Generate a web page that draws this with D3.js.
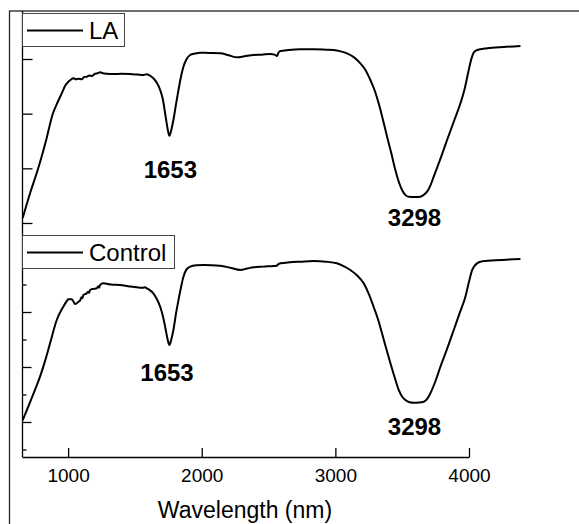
<!DOCTYPE html>
<html>
<head>
<meta charset="utf-8">
<script src="https://cdn.jsdelivr.net/npm/d3@7"></script>
<style>
  body { margin: 0; background: #fff; }
  svg { display: block; font-family: Arial, "Liberation Sans", sans-serif; }
</style>
</head>
<body>
<div id="chart"></div>
<script>
// LA spectrum (wavelength nm, arbitrary units)
var waveLA = [660, 720, 777, 835, 885, 920, 952, 980, 1002, 1020, 1039, 1060, 1080, 1102, 1120, 1140, 1160, 1180, 1200, 1220, 1239, 1260, 1290, 1339, 1400, 1464, 1520, 1564, 1589, 1610, 1638, 1665, 1689, 1710, 1726, 1745, 1758, 1772, 1788, 1808, 1826, 1845, 1863, 1885, 1913, 1950, 1988, 2050, 2138, 2200, 2263, 2320, 2388, 2450, 2513, 2545, 2563, 2575, 2588, 2650, 2737, 2837, 2930, 2987, 3040, 3087, 3140, 3187, 3225, 3262, 3295, 3324, 3355, 3387, 3420, 3449, 3475, 3499, 3525, 3549, 3590, 3636, 3665, 3686, 3710, 3736, 3790, 3836, 3890, 3936, 3970, 3998, 4020, 4036, 4061, 4136, 4260, 4385];
var valuesLA = [0.09, 0.58, 1.006, 1.51, 1.994, 2.2, 2.37, 2.52, 2.585, 2.62, 2.647, 2.63, 2.64, 2.628, 2.67, 2.676, 2.70, 2.69, 2.73, 2.74, 2.757, 2.74, 2.73, 2.725, 2.73, 2.725, 2.715, 2.707, 2.72, 2.70, 2.647, 2.56, 2.433, 2.25, 2.007, 1.72, 1.597, 1.70, 1.884, 2.18, 2.433, 2.68, 2.859, 2.99, 3.073, 3.10, 3.115, 3.11, 3.104, 3.07, 3.031, 3.05, 3.073, 3.08, 3.091, 3.08, 3.055, 3.12, 3.146, 3.165, 3.177, 3.177, 3.17, 3.164, 3.14, 3.104, 3.03, 2.921, 2.80, 2.616, 2.42, 2.19, 1.90, 1.579, 1.26, 0.969, 0.75, 0.604, 0.51, 0.481, 0.475, 0.481, 0.52, 0.573, 0.68, 0.847, 1.20, 1.518, 1.88, 2.19, 2.48, 2.80, 3.02, 3.12, 3.164, 3.196, 3.22, 3.238];

// Control spectrum
var waveCtrl = [660, 702, 750, 790, 830, 865, 915, 964, 985, 1002, 1027, 1040, 1052, 1065, 1077, 1090, 1100, 1108, 1114, 1140, 1150, 1158, 1164, 1190, 1215, 1225, 1232, 1239, 1264, 1320, 1389, 1450, 1514, 1560, 1575, 1589, 1610, 1638, 1665, 1689, 1710, 1726, 1745, 1758, 1772, 1788, 1808, 1826, 1845, 1863, 1885, 1913, 1960, 2013, 2138, 2220, 2288, 2340, 2388, 2460, 2537, 2560, 2575, 2588, 2660, 2737, 2837, 2930, 3012, 3065, 3112, 3165, 3212, 3250, 3286, 3320, 3349, 3380, 3412, 3445, 3474, 3500, 3524, 3555, 3586, 3625, 3661, 3690, 3711, 3750, 3786, 3836, 3886, 3930, 3973, 4000, 4024, 4045, 4061, 4086, 4200, 4385];
var valuesCtrl = [0.03, 0.278, 0.57, 0.824, 1.13, 1.431, 1.855, 2.096, 2.18, 2.231, 2.231, 2.19, 2.145, 2.16, 2.187, 2.21, 2.27, 2.25, 2.309, 2.34, 2.37, 2.35, 2.4, 2.42, 2.431, 2.47, 2.44, 2.491, 2.522, 2.50, 2.491, 2.47, 2.449, 2.44, 2.45, 2.431, 2.40, 2.34, 2.23, 2.096, 1.92, 1.733, 1.50, 1.40, 1.50, 1.673, 1.98, 2.218, 2.45, 2.642, 2.77, 2.824, 2.85, 2.855, 2.842, 2.80, 2.764, 2.79, 2.813, 2.825, 2.836, 2.84, 2.875, 2.885, 2.905, 2.915, 2.927, 2.915, 2.885, 2.83, 2.764, 2.66, 2.522, 2.33, 2.096, 1.86, 1.613, 1.34, 1.067, 0.80, 0.582, 0.46, 0.4, 0.36, 0.351, 0.355, 0.369, 0.43, 0.522, 0.75, 1.005, 1.33, 1.673, 1.98, 2.278, 2.55, 2.764, 2.85, 2.885, 2.915, 2.94, 2.964];

var xTicks = [1000, 2000, 3000, 4000];
var topTicks = [0, 1, 2, 3];
var botMajor = [0, 1, 2];
var botMinor = [-0.5, 0.5, 1.5, 2.5];

// peak labels: [wavelength position, value position, text]
var peaksLA = [[1765, 0.82, "1653"], [3592, -0.06, "3298"]];
var peaksCtrl = [[1740, 0.75, "1653"], [3592, -0.24, "3298"]];

var width = 579, height = 524;

var svg = d3.select("#chart").append("svg")
  .attr("width", width)
  .attr("height", height);

var x = d3.scaleLinear().domain([655, 4000]).range([22, 469]);
var yTop = d3.scaleLinear().domain([0, 3]).range([223, 59]);
var yBot = d3.scaleLinear().domain([0, 2]).range([422, 312]);

// outer frame (runs off the right/bottom edges)
svg.append("rect")
  .attr("x", 9.5).attr("y", 11)
  .attr("width", 600).attr("height", 600)
  .attr("fill", "none")
  .attr("stroke", "#222")
  .attr("stroke-width", 1.3);

// left spine
svg.append("line")
  .attr("x1", 22.5).attr("x2", 22.5)
  .attr("y1", 11).attr("y2", 457)
  .attr("stroke", "#000").attr("stroke-width", 1.3);

// y ticks (inward)
var gTop = svg.append("g").attr("transform", "translate(22.5,0)")
  .call(d3.axisRight(yTop).tickValues(topTicks).tickSize(10).tickFormat(""));
var gBotMajor = svg.append("g").attr("transform", "translate(22.5,0)")
  .call(d3.axisRight(yBot).tickValues(botMajor).tickSize(9).tickFormat(""));
var gBotMinor = svg.append("g").attr("transform", "translate(22.5,0)")
  .call(d3.axisRight(yBot).tickValues(botMinor).tickSize(4).tickFormat(""));
[gTop, gBotMajor, gBotMinor].forEach(function (g) {
  g.select(".domain").remove();
  g.selectAll("line").attr("stroke", "#000").attr("stroke-width", 1.3);
});

// x axis
var gx = svg.append("g")
  .attr("transform", "translate(0,457)")
  .call(d3.axisBottom(x).tickValues(xTicks).tickFormat(d3.format("d"))
    .tickSize(-9).tickSizeOuter(0).tickPadding(12));
gx.select(".domain").attr("stroke", "#000").attr("stroke-width", 1.3);
gx.selectAll("line").attr("stroke", "#000").attr("stroke-width", 1.3);
gx.selectAll("text")
  .attr("font-size", "19px")
  .attr("font-family", "Arial, 'Liberation Sans', sans-serif")
  .attr("fill", "#000");

svg.append("text")
  .attr("x", 245).attr("y", 518)
  .attr("text-anchor", "middle")
  .attr("font-size", "23px")
  .text("Wavelength (nm)");

// curves
function drawCurve(waves, vals, yScale) {
  var pts = waves.map(function (w, i) { return [w, vals[i]]; });
  var line = d3.line()
    .x(function (d) { return x(d[0]); })
    .y(function (d) { return yScale(d[1]); })
    .curve(d3.curveMonotoneX);
  svg.append("path")
    .datum(pts)
    .attr("d", line)
    .attr("fill", "none")
    .attr("stroke", "#000")
    .attr("stroke-width", 2)
    .attr("stroke-linejoin", "round");
}
drawCurve(waveLA, valuesLA, yTop);
drawCurve(waveCtrl, valuesCtrl, yBot);

// peak labels
function drawPeaks(peaks, yScale) {
  svg.selectAll(null)
    .data(peaks)
    .enter()
    .append("text")
    .attr("x", function (d) { return x(d[0]); })
    .attr("y", function (d) { return yScale(d[1]); })
    .attr("text-anchor", "middle")
    .attr("font-size", "24px")
    .attr("font-weight", "bold")
    .text(function (d) { return d[2]; });
}
drawPeaks(peaksLA, yTop);
drawPeaks(peaksCtrl, yBot);

// legends
function drawLegend(top, w, label) {
  svg.append("rect")
    .attr("x", 22.5).attr("y", top)
    .attr("width", w).attr("height", 33)
    .attr("fill", "#fff")
    .attr("stroke", "#444")
    .attr("stroke-width", 1);
  svg.append("line")
    .attr("x1", 27).attr("x2", 83)
    .attr("y1", top + 17).attr("y2", top + 17)
    .attr("stroke", "#000").attr("stroke-width", 2);
  svg.append("text")
    .attr("x", 89).attr("y", top + 25)
    .attr("font-size", "24px")
    .text(label);
}
drawLegend(13.5, 102, "LA");
drawLegend(235.5, 152, "Control");
</script>
</body>
</html>
